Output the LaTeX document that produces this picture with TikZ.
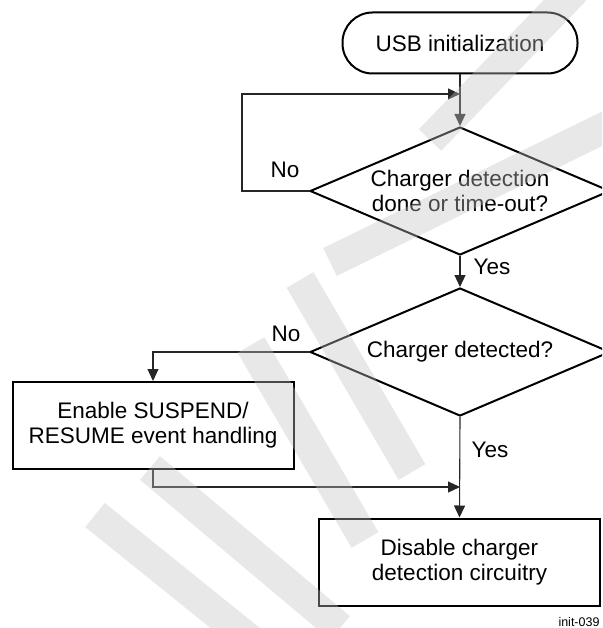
\documentclass[tikz,border=0pt]{standalone}
\usepackage{fontspec}
\setmainfont{Liberation Sans}
\usetikzlibrary{shapes.geometric,arrows.meta}
\tikzset{
  every node/.style={font=\fontsize{22.5}{25}\selectfont, text=black},
  boxline/.style={draw=black, line width=2pt},
  pill/.style={boxline, rounded corners=30pt, minimum width=235pt, minimum height=61pt, inner sep=0pt},
  decision/.style={boxline, diamond, aspect=2.34, minimum width=300pt, minimum height=128pt, inner sep=0pt, align=center},
  process/.style={boxline, rectangle, minimum width=281pt, minimum height=87pt, inner sep=0pt, align=center},
  conn/.style={draw=black!85, line width=1.1pt},
  arr/.style={conn, -{Triangle[length=12pt,width=11pt]}},
  lbl/.style={inner sep=0pt},
  wm/.style={line width=31pt, draw=black!24, draw opacity=0.38, line cap=butt},
}
\begin{document}
\begin{tikzpicture}[x=1pt,y=-1pt]
\path[use as bounding box] (0,0) rectangle (602,628);
\clip (0,0) rectangle (602,628);
\node[pill] (start) at (460,43) {USB initialization};
\node[decision] (d1) at (460,191) {Charger detection\\done or time-out?};
\node[decision] (d2) at (460,352) {Charger detected?};
\node[process] (enable) at (153,425.5) {Enable SUSPEND/\\RESUME event handling};
\node[process] (disable) at (459.5,562) {Disable charger\\detection circuitry};
\coordinate (j1) at (460,94);
\coordinate (j2) at (460,487);
\draw[conn] (start.south) -- (j1);
\draw[arr] (j1) -- (d1.north);
\draw[arr] (d1.west) -- (242,191) |- (j1);
\draw[arr] (d1.south) -- (d2.north);
\draw[arr] (d2.west) -| (enable.north);
\draw[arr] (d2.south) -- (disable.north);
\draw[arr] (enable.south) |- (j2);
\node[lbl] (no1) at (285,170) {No};
\node[lbl] (yes1) at (492,267) {Yes};
\node[lbl] (no2) at (286,334) {No};
\node[lbl] (yes2) at (490,450) {Yes};
\node[lbl, font=\fontsize{12.5}{14}\selectfont] (tag) at (579,622) {init-039};
% watermark
\draw[wm] (95,515) -- (260,648);
\draw[wm] (150,468) -- (340,628);
\draw[wm] (251,345) -- (365,540);
\draw[wm] (300,280) -- (412,472);
\draw[wm] (330,262) -- (620,120);
\draw[wm] (430,140) -- (575,-10);
\end{tikzpicture}
\end{document}
